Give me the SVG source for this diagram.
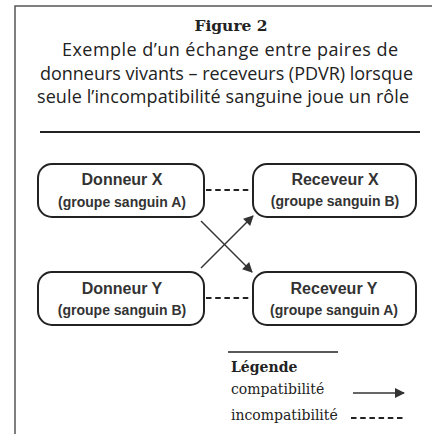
<svg xmlns="http://www.w3.org/2000/svg" width="432" height="434" viewBox="0 0 432 434">
<defs>
<style>
.frame{fill:none;stroke:#555;stroke-width:1.5}
.rule{stroke:#222;stroke-width:2}
.title{font-family:"DejaVu Serif","Liberation Serif",serif;font-weight:bold;font-size:15.5px;fill:#222}
.cap{font-family:"Open Sans","Noto Sans",sans-serif;font-size:18px;fill:#222}
.box{fill:#fff;stroke:#222;stroke-width:2}
.n1{font-family:"Liberation Sans",Arial,sans-serif;font-weight:bold;font-size:16px;fill:#333}
.n2{font-family:"Liberation Sans",Arial,sans-serif;font-weight:bold;font-size:14px;fill:#333}
.dash{stroke:#222;stroke-width:2;stroke-dasharray:5.5 3.7;fill:none}
.arr{stroke:#333;stroke-width:1.5;fill:none;marker-end:url(#ah)}
.leg{font-family:"DejaVu Serif","Liberation Serif",serif;font-size:14px;fill:#222}
</style>
<marker id="ah" viewBox="0 0 10 10" refX="9" refY="5" markerUnits="userSpaceOnUse" markerWidth="12" markerHeight="10" orient="auto">
<path d="M0,0 L10,5 L0,10 z" fill="#333"/>
</marker>
</defs>
<rect width="432" height="434" fill="#fff"/>
<path class="frame" d="M15,434 V6 H432"/>
<g id="title">
<text class="title" x="231" y="31" text-anchor="middle">Figure 2</text>
<text class="cap" x="230" y="56" text-anchor="middle" textLength="336">Exemple d’un échange entre paires de</text>
<text class="cap" x="226.5" y="80" text-anchor="middle" textLength="373">donneurs vivants – receveurs (PDVR) lorsque</text>
<text class="cap" x="223" y="103" text-anchor="middle" textLength="372">seule l’incompatibilité sanguine joue un rôle</text>
<line class="rule" x1="40" y1="132" x2="420" y2="132"/>
</g>
<g id="connectors">
<line class="dash" x1="206" y1="190" x2="251" y2="190"/>
<line class="dash" x1="206" y1="298" x2="251" y2="298"/>
<line class="arr" x1="201" y1="221" x2="252" y2="272"/>
<line class="arr" x1="201" y1="268" x2="253" y2="216"/>
</g>
<g id="donneurX">
<rect class="box" x="38" y="164" width="166" height="53" rx="14"/>
<text class="n1" x="122" y="185" text-anchor="middle">Donneur X</text>
<text class="n2" x="122" y="207" text-anchor="middle">(groupe sanguin A)</text>
</g>
<g id="receveurX">
<rect class="box" x="253" y="164" width="163" height="53" rx="14"/>
<text class="n1" x="335" y="185" text-anchor="middle">Receveur X</text>
<text class="n2" x="335" y="206" text-anchor="middle">(groupe sanguin B)</text>
</g>
<g id="donneurY">
<rect class="box" x="38" y="272" width="166" height="53" rx="14"/>
<text class="n1" x="122" y="294" text-anchor="middle">Donneur Y</text>
<text class="n2" x="122" y="315" text-anchor="middle">(groupe sanguin B)</text>
</g>
<g id="receveurY">
<rect class="box" x="253" y="272" width="163" height="53" rx="14"/>
<text class="n1" x="334" y="294" text-anchor="middle">Receveur Y</text>
<text class="n2" x="334" y="315" text-anchor="middle">(groupe sanguin A)</text>
</g>
<g id="legend">
<line x1="228" y1="352" x2="338" y2="352" stroke="#222" stroke-width="1.5"/>
<text class="leg" x="231" y="372" font-weight="bold">Légende</text>
<text class="leg" x="231" y="394">compatibilité</text>
<text class="leg" x="231" y="420">incompatibilité</text>
<line class="arr" x1="353" y1="393" x2="404" y2="393" stroke-width="1.2"/>
<line class="dash" x1="351" y1="418" x2="406" y2="418"/>
</g>
</svg>
